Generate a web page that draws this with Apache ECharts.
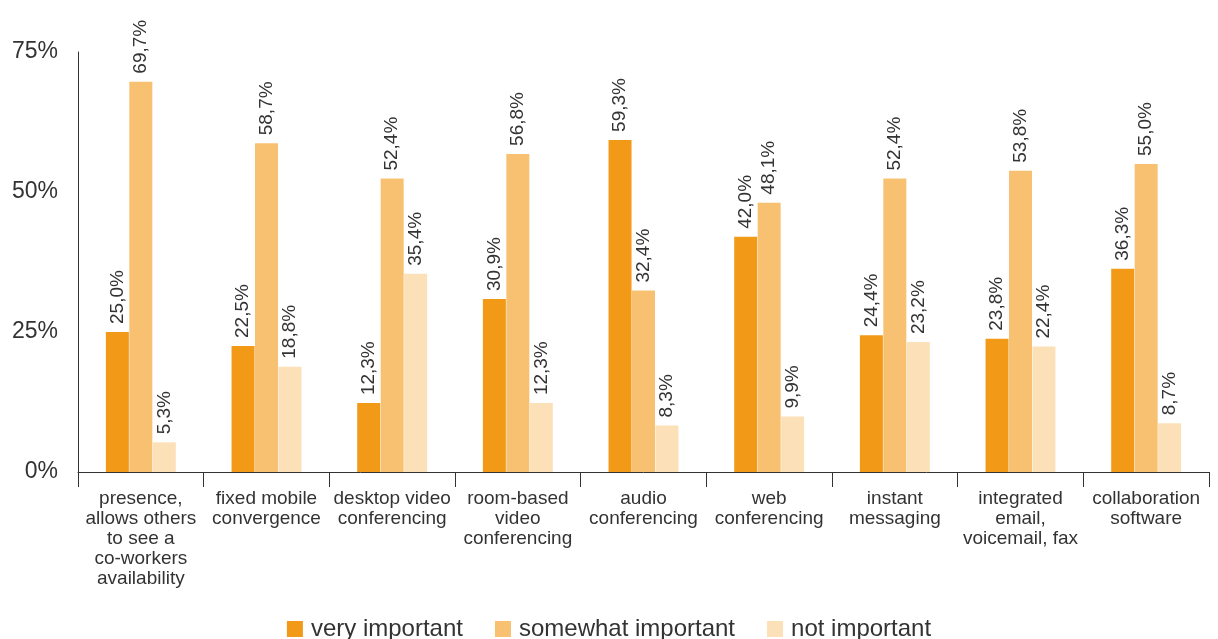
<!DOCTYPE html>
<html><head><meta charset="utf-8">
<script src="https://cdn.jsdelivr.net/npm/echarts@6/dist/echarts.min.js"></script>
<style>html,body{margin:0;padding:0;background:#fff}#c{width:1218px;height:639px}</style>
</head><body><div id="c"></div>
<script>
const categories = [
  "presence,\nallows others\nto see a\nco-workers\navailability",
  "fixed mobile\nconvergence",
  "desktop video\nconferencing",
  "room-based\nvideo\nconferencing",
  "audio\nconferencing",
  "web\nconferencing",
  "instant\nmessaging",
  "integrated\nemail,\nvoicemail, fax",
  "collaboration\nsoftware"
];
const seriesNames = ["very important", "somewhat important", "not important"];
const veryImportant = [25.0, 22.5, 12.3, 30.9, 59.3, 42.0, 24.4, 23.8, 36.3];
const somewhatImportant = [69.7, 58.7, 52.4, 56.8, 32.4, 48.1, 52.4, 53.8, 55.0];
const notImportant = [5.3, 18.8, 35.4, 12.3, 8.3, 9.9, 23.2, 22.4, 8.7];
const yTicks = [0, 25, 50, 75];
const colors = ["#F29A17", "#F8C172", "#FCE0B8"];

const font = "Liberation Sans";
const txt = "#333333";
const dataSets = [veryImportant, somewhatImportant, notImportant];
const chart = echarts.init(document.getElementById('c'));
chart.setOption({
  animation: false,
  color: colors,
  textStyle: { fontFamily: font, color: txt },
  grid: { left: 78, right: 9, top: 52, bottom: 167, containLabel: false },
  legend: {
    top: 612, left: 'center',
    itemWidth: 16, itemHeight: 16, itemGap: 32,
    icon: 'rect',
    textStyle: { fontSize: 24, color: txt, fontFamily: font, padding: [0, 0, 0, 3] },
    data: seriesNames
  },
  xAxis: {
    type: 'category', data: categories,
    axisLine: { lineStyle: { color: '#333', width: 1 } },
    axisTick: { show: true, length: 15, lineStyle: { color: '#333' } },
    axisLabel: { fontSize: 19, lineHeight: 20, color: txt, margin: 17, interval: 0, fontFamily: font }
  },
  yAxis: {
    type: 'value', min: 0, max: 75, interval: 25,
    axisLine: { show: true, lineStyle: { color: '#333', width: 1 } },
    axisTick: { show: false },
    splitLine: { show: false },
    axisLabel: { fontSize: 23, color: txt, margin: 20, fontFamily: font,
      formatter: v => yTicks.includes(v) ? v + '%' : '' }
  },
  series: dataSets.map((d, i) => ({
    name: seriesNames[i], type: 'bar', data: d,
    barWidth: 23, barGap: '2%',
    label: {
      show: true, position: 'top', rotate: 90, align: 'left', verticalAlign: 'middle',
      distance: 8, fontSize: 19, color: txt, fontFamily: font,
      formatter: p => p.value.toFixed(1).replace('.', ',') + '%'
    }
  }))
});
</script></body></html>
